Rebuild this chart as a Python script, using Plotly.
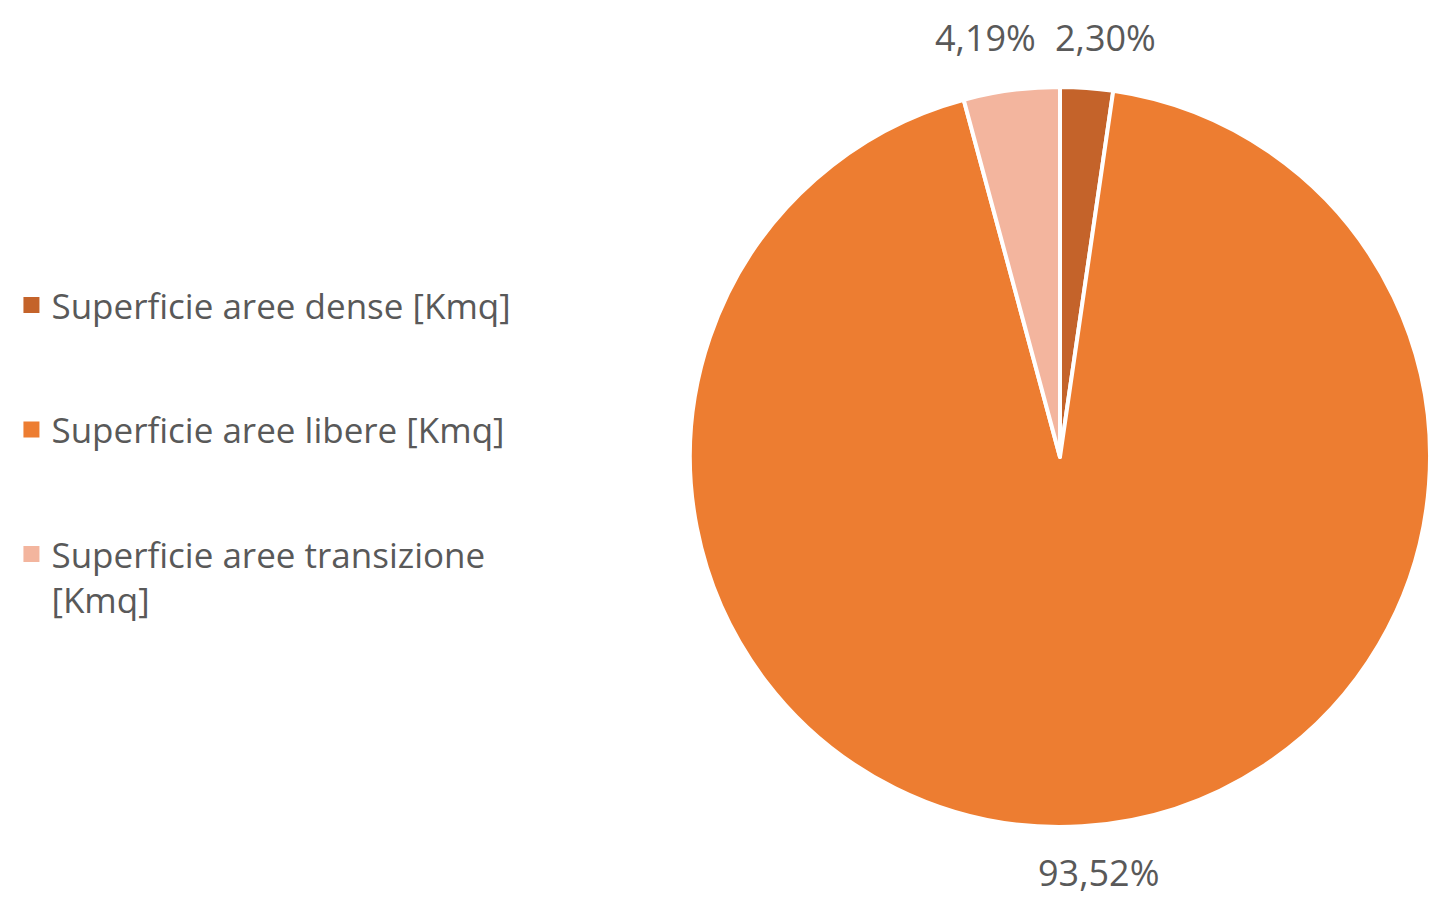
import plotly.graph_objects as go

categories = ["Superficie aree dense [Kmq]",
              "Superficie aree libere [Kmq]",
              "Superficie aree transizione<br>[Kmq]"]
values = [2.30, 93.52, 4.19]
colors = ["#C4632A", "#ED7D31", "#F3B59E"]

FONT = "Open Sans"
TXT = "#595959"

def fmt(v):
    return f"{v:.2f}".replace(".", ",") + "%"

fig = go.Figure()
fig.add_trace(go.Pie(
    labels=categories,
    values=values,
    sort=False,
    direction="clockwise",
    rotation=0,
    marker=dict(colors=colors, line=dict(color="white", width=4)),
    textinfo="none",
    hoverinfo="label+percent",
    domain=dict(x=[0.4825, 1.0], y=[0.0768, 0.9066]),
    showlegend=False,
))

# legend entries (one per category, same colours as the slices)
for i, (cat, col) in enumerate(zip(categories, colors)):
    fig.add_trace(go.Scatter(
        x=[None], y=[None], mode="markers", name=cat,
        marker=dict(symbol="square", size=17, color=col),
        legendgroup=f"g{i}", showlegend=True, hoverinfo="skip",
    ))

# percentage labels (text from the data)
label_pos = [(1105, 38, "middle"), (1098, 899, "bottom"), (985, 38, "middle")]
for v, (px, py, ya) in zip(values, label_pos):
    fig.add_annotation(x=px / 1430, y=1 - py / 899, xref="paper", yref="paper",
                       text=fmt(v), showarrow=False,
                       font=dict(family=FONT, size=36, color=TXT),
                       xanchor="center", yanchor=ya)

fig.update_layout(
    width=1430, height=899,
    margin=dict(l=0, r=0, t=0, b=0),
    paper_bgcolor="white",
    plot_bgcolor="white",
    xaxis=dict(visible=False),
    yaxis=dict(visible=False),
    legend=dict(x=0.008, y=0.6933, xanchor="left", yanchor="top",
                font=dict(family=FONT, size=35, color=TXT),
                valign="top", tracegroupgap=76, itemclick=False,
                itemwidth=30),
)

fig.write_html("out.html")
